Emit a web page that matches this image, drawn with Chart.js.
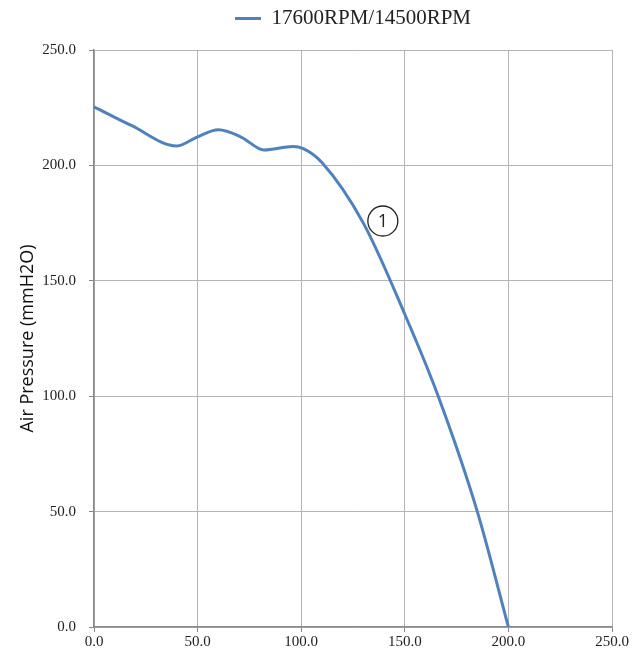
<!DOCTYPE html>
<html>
<head>
<meta charset="utf-8">
<script src="https://cdn.jsdelivr.net/npm/chart.js@4/dist/chart.umd.min.js"></script>
<style>
  html, body { margin: 0; padding: 0; background: #fff; }
  #wrap { width: 640px; height: 656px; }
</style>
</head>
<body>
<div id="wrap"><canvas id="pq"></canvas></div>
<script>
// fan curve: airflow vs static pressure
const seriesName = '17600RPM/14500RPM';
const flow = [0, 18, 40, 50, 60, 71, 82, 96, 101, 110, 130, 150, 166, 185, 200];
const pressure = [225.4, 217.3, 208.4, 212.4, 215.4, 212.3, 206.7, 208.2, 207.3, 201.3, 175, 135.5, 100.3, 50, 0];
const xTicks = [0, 50, 100, 150, 200, 250];
const yTicks = [0, 50, 100, 150, 200, 250];
const curveTag = { label: '1', x: 139.4, y: 175.9 };

const BLUE = 'rgb(79, 129, 189)';
const SERIF = '"Liberation Serif", "Times New Roman", serif';

// circled number next to the curve
const tagPlugin = {
  id: 'curveTag',
  afterDatasetsDraw(chart) {
    const { ctx, scales } = chart;
    const cx = scales.x.getPixelForValue(curveTag.x);
    const cy = scales.y.getPixelForValue(curveTag.y);
    ctx.save();
    ctx.beginPath();
    ctx.arc(cx, cy, 15, 0, Math.PI * 2);
    ctx.fillStyle = '#fff';
    ctx.fill();
    ctx.lineWidth = 1.3;
    ctx.strokeStyle = '#222';
    ctx.stroke();
    ctx.fillStyle = '#222';
    ctx.font = '18px "Open Sans", sans-serif';
    ctx.textAlign = 'center';
    ctx.textBaseline = 'middle';
    ctx.fillText(curveTag.label, cx, cy + 1);
    ctx.restore();
  }
};

// extra room between legend and plot
const legendGap = {
  id: 'legendGap',
  afterInit(chart) {
    const lg = chart.legend;
    if (!lg) return;
    const fit = lg.fit;
    lg.fit = function () {
      fit.call(this);
      this.height += 11;
    };
  }
};

const points = flow.map((v, i) => ({ x: v, y: pressure[i] }));

new Chart(document.getElementById('pq'), {
  type: 'scatter',
  data: {
    datasets: [{
      label: seriesName,
      data: points,
      showLine: true,
      borderColor: BLUE,
      backgroundColor: BLUE,
      borderWidth: 3,
      pointRadius: 0,
      cubicInterpolationMode: 'monotone'
    }]
  },
  options: {
    responsive: true,
    maintainAspectRatio: false,
    animation: false,
    layout: { padding: { left: 17, right: 28, top: 0, bottom: 4 } },
    plugins: {
      tooltip: { enabled: false },
      legend: {
        display: true,
        position: 'top',
        fullSize: false,
        labels: {
          usePointStyle: true,
          pointStyle: 'line',
          pointStyleWidth: 26,
          boxHeight: 3,
          color: '#222',
          font: { family: SERIF, size: 21 },
          padding: 8
        }
      }
    },
    scales: {
      x: {
        type: 'linear',
        min: 0,
        max: 250,
        afterBuildTicks(scale) { scale.ticks = xTicks.map(v => ({ value: v })); },
        ticks: {
          color: '#222',
          font: { family: SERIF, size: 15 },
          padding: 1,
          maxRotation: 0,
          callback: v => v.toFixed(1)
        },
        grid: { color: '#b4b4b4', lineWidth: 1, tickLength: 5, tickColor: '#888' },
        border: { color: '#888', width: 1.5 }
      },
      y: {
        min: 0,
        max: 250,
        afterBuildTicks(scale) { scale.ticks = yTicks.map(v => ({ value: v })); },
        afterFit(scale) { scale.width = 77; },
        ticks: {
          color: '#222',
          font: { family: SERIF, size: 15 },
          padding: 13,
          callback: v => v.toFixed(1)
        },
        title: {
          display: true,
          text: 'Air Pressure (mmH2O)',
          color: '#111',
          font: { family: '"Open Sans", sans-serif', size: 18 },
          padding: { top: 0, bottom: 4 }
        },
        grid: { color: '#b4b4b4', lineWidth: 1, tickLength: 5, tickColor: '#888' },
        border: { color: '#888', width: 1.5 }
      }
    }
  },
  plugins: [tagPlugin, legendGap]
});
</script>
</body>
</html>
